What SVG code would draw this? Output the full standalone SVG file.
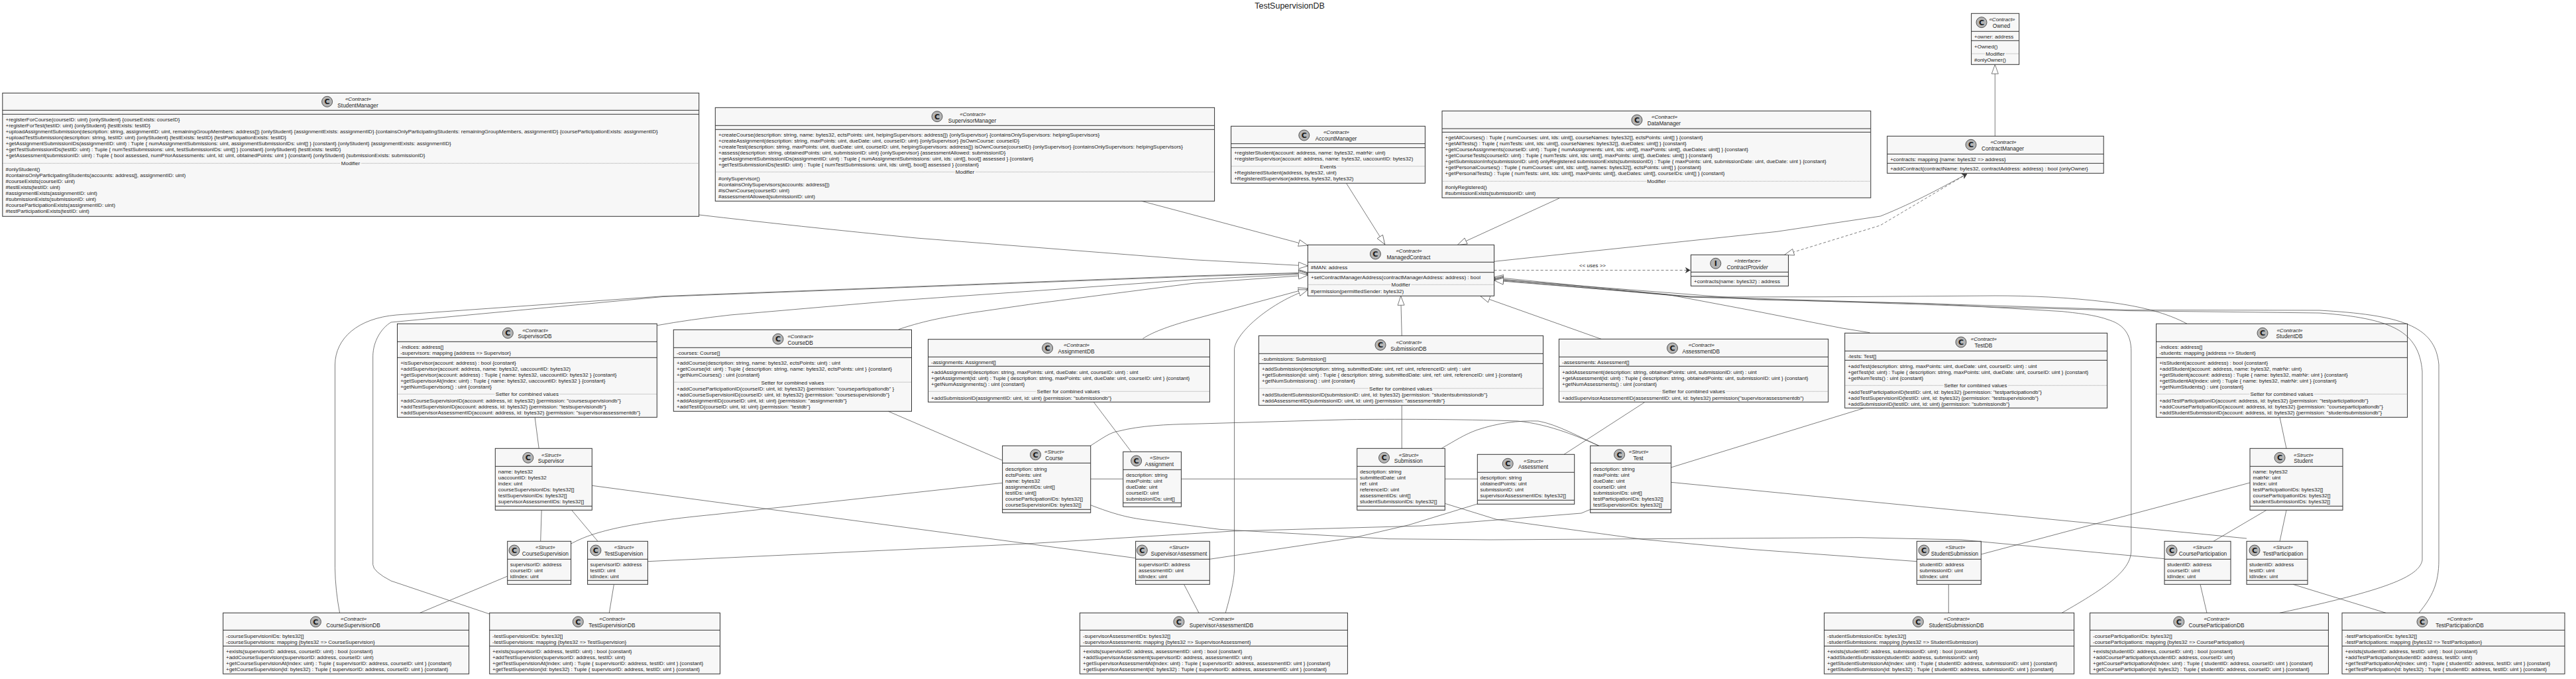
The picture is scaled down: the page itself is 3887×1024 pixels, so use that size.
<svg xmlns="http://www.w3.org/2000/svg" width="3887" height="1024" viewBox="0 0 3887 1024">
<style>
text{font-family:"Liberation Sans",Arial,sans-serif;font-size:8px;fill:#1c1c1c}
.m{text-anchor:middle}
.s{text-anchor:middle;font-style:italic}
.n{text-anchor:middle;font-size:8.3px}
.i{font-style:italic}
.l{text-anchor:middle;paint-order:stroke;stroke:#f7f7f7;stroke-width:3px}
.g{text-anchor:middle;font-weight:bold;font-size:11px;font-family:"DejaVu Sans",sans-serif}
.b{fill:#f7f7f7;stroke:#333;stroke-width:1}
.e{fill:none;stroke:#333;stroke-width:1}
.d{fill:none;stroke:#666;stroke-width:.6;stroke-dasharray:1 1}
.o{fill:#b4b4b4;stroke:#333;stroke-width:.8}
.c path,.c line{fill:none;stroke:#444;stroke-width:.7}
.c .dash{stroke-dasharray:4 3}
</style>
<defs>
<marker id="tri" markerUnits="userSpaceOnUse" markerWidth="16" markerHeight="12" refX="14.5" refY="6" orient="auto"><path d="M0.5,1 L14.5,6 L0.5,11 Z" fill="#fff" stroke="#444" stroke-width=".7"/></marker>
<marker id="open" markerUnits="userSpaceOnUse" markerWidth="10" markerHeight="10" refX="8" refY="5" orient="auto"><path d="M1,1 L8,5 L1,9 L3,5 Z" fill="#333" stroke="#333" stroke-width=".5"/></marker>
</defs>
<rect width="3887" height="1024" fill="#fff"/>
<text x="1946" y="12.5" style="font-size:12.5px;text-anchor:middle">TestSupervisionDB</text>

<g id="StudentManager"><rect class="b" x="3.8" y="140.3" width="1050.9" height="186"/><path class="e" d="M3.8,166.3H1054.7M3.8,172.3H1054.7"/><path class="d" d="M3.8,246.3H1054.7"/><circle class="o" cx="493.6" cy="153.3" r="8"/><text class="g" x="493.6" y="157.2">C</text><text class="s" x="540.5" y="151.8">«Contract»</text><text class="n" x="540" y="161.8">StudentManager</text>
<text x="8.5" y="183.1">+registerForCourse(courseID: uint) {onlyStudent} {courseExists: courseID}</text>
<text x="8.5" y="192.1">+registerForTest(testID: uint) {onlyStudent} {testExists: testID}</text>
<text x="8.5" y="201.2">+uploadAssignmentSubmission(description: string, assignmentID: uint, remainingGroupMembers: address[]) {onlyStudent} {assignmentExists: assignmentID} {containsOnlyParticipatingStudents: remainingGroupMembers, assignmentID} {courseParticipationExists: assignmentID}</text>
<text x="8.5" y="210.2">+uploadTestSubmission(description: string, testID: uint) {onlyStudent} {testExists: testID} {testParticipationExists: testID}</text>
<text x="8.5" y="219.2">+getAssignmentSubmissionIDs(assignmentID: uint) : Tuple { numAssignmentSubmissions: uint, assignmentSubmissionIDs: uint[] } {constant} {onlyStudent} {assignmentExists: assignmentID}</text>
<text x="8.5" y="228.2">+getTestSubmissionIDs(testID: uint) : Tuple { numTestSubmissions: uint, testSubmissionIDs: uint[] } {constant} {onlyStudent} {testExists: testID}</text>
<text x="8.5" y="237.3">+getAssessment(submissionID: uint) : Tuple { bool assessed, numPriorAssessments: uint, id: uint, obtainedPoints: uint } {constant} {onlyStudent} {submissionExists: submissionID}</text>
<text class="l" x="529" y="249.1">Modifier</text>
<text x="8.5" y="258.1">#onlyStudent()</text><text x="8.5" y="267.2">#containsOnlyParticipatingStudents(accounts: address[], assignmentID: uint)</text><text x="8.5" y="276.2">#courseExists(courseID: uint)</text><text x="8.5" y="285.2">#testExists(testID: uint)</text><text x="8.5" y="294.2">#assignmentExists(assignmentID: uint)</text><text x="8.5" y="303.2">#submissionExists(submissionID: uint)</text><text x="8.5" y="312.3">#courseParticipationExists(assignmentID: uint)</text><text x="8.5" y="321.3">#testParticipationExists(testID: uint)</text></g>

<g id="SupervisorManager"><rect class="b" x="1079.3" y="162.3" width="753.3" height="141"/><path class="e" d="M1079.3,189.3H1832.6M1079.3,195.3H1832.6"/><path class="d" d="M1079.3,259.3H1832.6"/><circle class="o" cx="1414" cy="175.7" r="8"/><text class="g" x="1414" y="179.6">C</text><text class="s" x="1467.9" y="174.5">«Contract»</text><text class="n" x="1467" y="184.5">SupervisorManager</text>
<text x="1084" y="205.8">+createCourse(description: string, name: bytes32, ectsPoints: uint, helpingSupervisors: address[]) {onlySupervisor} {containsOnlySupervisors: helpingSupervisors}</text>
<text x="1084" y="214.8">+createAssignment(description: string, maxPoints: uint, dueDate: uint, courseID: uint) {onlySupervisor} {isOwnCourse: courseID}</text>
<text x="1084" y="223.8">+createTest(description: string, maxPoints: uint, dueDate: uint, courseID: uint, helpingSupervisors: address[]) isOwnCourse(courseID) {onlySupervisor} {containsOnlySupervisors: helpingSupervisors}</text>
<text x="1084" y="232.8">+assess(description: string, obtainedPoints: uint, submissionID: uint) {onlySupervisor} {assessmentAllowed: submissionID}</text>
<text x="1084" y="241.8">+getAssignmentSubmissionIDs(assignmentID: uint) : Tuple { numAssignmentSubmissions: uint, ids: uint[], bool[] assessed } {constant}</text>
<text x="1084" y="250.8">+getTestSubmissionIDs(testID: uint) : Tuple { numTestSubmissions: uint, ids: uint[], bool[] assessed } {constant}</text>
<text class="l" x="1456" y="262.1">Modifier</text>
<text x="1084" y="271.8">#onlySupervisor()</text><text x="1084" y="280.8">#containsOnlySupervisors(accounts: address[])</text><text x="1084" y="289.8">#isOwnCourse(courseID: uint)</text><text x="1084" y="298.8">#assessmentAllowed(submissionID: uint)</text></g>

<g id="AccountManager"><rect class="b" x="1857.6" y="190.3" width="292.8" height="86"/><path class="e" d="M1857.6,216.7H2150.4M1857.6,222.7H2150.4"/><path class="d" d="M1857.6,250.7H2150.4"/><circle class="o" cx="1967.8" cy="204" r="8"/><text class="g" x="1967.8" y="207.9">C</text><text class="s" x="2016.5" y="201.8">«Contract»</text><text class="n" x="2016" y="211.8">AccountManager</text>
<text x="1862.2" y="233.1">+registerStudent(account: address, name: bytes32, matrNr: uint)</text><text x="1862.2" y="242.1">+registerSupervisor(account: address, name: bytes32, uaccountID: bytes32)</text><text class="l" x="2004" y="253.5">Events</text><text x="1862.2" y="262.8">+RegisteredStudent(address, bytes32, uint)</text><text x="1862.2" y="271.8">+RegisteredSupervisor(address, bytes32, bytes32)</text></g>

<g id="DataManager"><rect class="b" x="2176" y="167.3" width="646.8" height="131"/><path class="e" d="M2176,194H2822.8M2176,199.3H2822.8"/><path class="d" d="M2176,273.3H2822.8"/><circle class="o" cx="2470" cy="181" r="8"/><text class="g" x="2470" y="184.9">C</text><text class="s" x="2511.6" y="178.8">«Contract»</text><text class="n" x="2511" y="188.8">DataManager</text>
<text x="2180.6" y="210.1">+getAllCourses() : Tuple { numCourses: uint, ids: uint[], courseNames: bytes32[], ectsPoints: uint[] } {constant}</text>
<text x="2180.6" y="219.1">+getAllTests() : Tuple { numTests: uint, ids: uint[], courseNames: bytes32[], dueDates: uint[] } {constant}</text>
<text x="2180.6" y="228.1">+getCourseAssignments(courseID: uint) : Tuple { numAssignments: uint, ids: uint[], maxPoints: uint[], dueDates: uint[] } {constant}</text>
<text x="2180.6" y="237.1">+getCourseTests(courseID: uint) : Tuple { numTests: uint, ids: uint[], maxPoints: uint[], dueDates: uint[] } {constant}</text>
<text x="2180.6" y="246.1">+getSubmissionInfo(submissionID: uint) onlyRegistered submissionExists(submissionID) : Tuple { maxPoints: uint, submissionDate: uint, dueDate: uint } {constant}</text>
<text x="2180.6" y="255.1">+getPersonalCourses() : Tuple { numCourses: uint, ids: uint[], names: bytes32[], ectsPoints: uint[] } {constant}</text>
<text x="2180.6" y="264.1">+getPersonalTests() : Tuple { numTests: uint, ids: uint[], maxPoints: uint[], dueDates: uint[], courseIDs: uint[] } {constant}</text>
<text class="l" x="2499.4" y="276.1">Modifier</text>
<text x="2180.6" y="284.8">#onlyRegistered()</text><text x="2180.6" y="293.8">#submissionExists(submissionID: uint)</text></g>

<g id="Owned"><rect class="b" x="2974.6" y="20.3" width="72.1" height="77"/><path class="e" d="M2974.6,47.3H3046.7M2974.6,61.3H3046.7"/><path class="d" d="M2974.6,81H3046.7"/><circle class="o" cx="2990" cy="33.7" r="8"/><text class="g" x="2990" y="37.6">C</text><text class="s" x="3021" y="32.1">«Contract»</text><text class="n" x="3020" y="41.8">Owned</text><text x="2979" y="57.8">+owner: address</text><text x="2979" y="72.5">+Owned()</text><text class="l" x="3010.6" y="83.8">Modifier</text><text x="2979" y="93.1">#onlyOwner()</text></g>

<g id="ContractManager"><rect class="b" x="2847.7" y="205.3" width="326.5" height="56"/><path class="e" d="M2847.7,232.3H3174.2M2847.7,246.3H3174.2"/><circle class="o" cx="2974" cy="218.3" r="8"/><text class="g" x="2974" y="222.2">C</text><text class="s" x="3023" y="216.8">«Contract»</text><text class="n" x="3022" y="226.8">ContractManager</text><text x="2852.2" y="242.5">+contracts: mapping {name: bytes32 =&gt; address}</text><text x="2852.2" y="257.1">+addContract(contractName: bytes32, contractAddress: address) : bool {onlyOwner}</text></g>

<g id="ManagedContract"><rect class="b" x="1973.4" y="369.3" width="281.1" height="77"/><path class="e" d="M1973.4,395.3H2254.5M1973.4,410.7H2254.5"/><path class="d" d="M1973.4,429.3H2254.5"/><circle class="o" cx="2075.4" cy="383" r="8"/><text class="g" x="2075.4" y="386.9">C</text><text class="s" x="2126" y="380.8">«Contract»</text><text class="n" x="2125.4" y="390.8">ManagedContract</text><text x="1978" y="406.1">#MAN: address</text><text x="1978" y="420.8">+setContractManagerAddress(contractManagerAddress: address) : bool</text><text class="l" x="2113.7" y="432.1">Modifier</text><text x="1978" y="441.8">#permission(permittedSender: bytes32)</text></g>

<g id="ContractProvider"><rect class="b" x="2551.5" y="384.3" width="147" height="47"/><path class="e" d="M2551.5,410.3H2698.5M2551.5,416.7H2698.5"/><circle class="o" cx="2588.8" cy="397.3" r="8"/><text class="g" x="2588.8" y="401.2">I</text><text class="s" x="2637" y="395.8">«Interface»</text><text class="n i" x="2636.7" y="405.5">ContractProvider</text><text x="2556" y="427.1">+contracts(name: bytes32) : address</text></g>

<g id="SupervisorDB"><rect class="b" x="599.5" y="488.3" width="391.8" height="141"/><path class="e" d="M599.5,515.3H991.3M599.5,539.3H991.3"/><path class="d" d="M599.5,594.3H991.3"/><circle class="o" cx="766.3" cy="502.3" r="8"/><text class="g" x="766.3" y="506.2">C</text><text class="s" x="807.7" y="500.5">«Contract»</text><text class="n" x="807" y="510.1">SupervisorDB</text>
<text x="604.2" y="526.1">-indices: address[]</text><text x="604.2" y="535.1">-supervisors: mapping {address =&gt; Supervisor}</text>
<text x="604.2" y="549.8">+isSupervisor(account: address) : bool {constant}</text><text x="604.2" y="558.8">+addSupervisor(account: address, name: bytes32, uaccountID: bytes32)</text><text x="604.2" y="567.8">+getSupervisor(account: address) : Tuple { name: bytes32, uaccountID: bytes32 } {constant}</text><text x="604.2" y="576.8">+getSupervisorAt(index: uint) : Tuple { name: bytes32, uaccountID: bytes32 } {constant}</text><text x="604.2" y="585.8">+getNumSupervisors() : uint {constant}</text>
<text class="l" x="795.4" y="597.2">Setter for combined values</text>
<text x="604.2" y="606.8">+addCourseSupervisionID(account: address, id: bytes32) {permission: "coursesupervisiondb"}</text><text x="604.2" y="615.8">+addTestSupervisionID(account: address, id: bytes32) {permission: "testsupervisiondb"}</text><text x="604.2" y="624.8">+addSupervisorAssessmentID(account: address, id: bytes32) {permission: "supervisorassessmentdb"}</text></g>

<g id="CourseDB"><rect class="b" x="1016.3" y="497.3" width="359.2" height="123"/><path class="e" d="M1016.3,524.3H1375.5M1016.3,539.3H1375.5"/><path class="d" d="M1016.3,576.3H1375.5"/><circle class="o" cx="1174" cy="511.3" r="8"/><text class="g" x="1174" y="515.2">C</text><text class="s" x="1208" y="509.5">«Contract»</text><text class="n" x="1207.7" y="519.5">CourseDB</text><text x="1021" y="535.1">-courses: Course[]</text>
<text x="1021" y="549.8">+addCourse(description: string, name: bytes32, ectsPoints: uint) : uint</text><text x="1021" y="558.8">+getCourse(id: uint) : Tuple { description: string, name: bytes32, ectsPoints: uint } {constant}</text><text x="1021" y="567.8">+getNumCourses() : uint {constant}</text><text class="l" x="1196" y="579.5">Setter for combined values</text>
<text x="1021" y="588.8">+addCourseParticipationID(courseID: uint, id: bytes32) {permission: "courseparticipationdb" }</text><text x="1021" y="597.8">+addCourseSupervisionID(courseID: uint, id: bytes32) {permission: "coursesupervisiondb"}</text><text x="1021" y="606.8">+addAssignmentID(courseID: uint, id: uint) {permission: "assignmentdb"}</text><text x="1021" y="615.8">+addTestID(courseID: uint, id: uint) {permission: "testdb"}</text></g>

<g id="AssignmentDB"><rect class="b" x="1400.5" y="511.7" width="424.9" height="94.6"/><path class="e" d="M1400.5,538.3H1825.4M1400.5,552.3H1825.4"/><path class="d" d="M1400.5,590.3H1825.4"/><circle class="o" cx="1580.6" cy="525" r="8"/><text class="g" x="1580.6" y="528.9">C</text><text class="s" x="1624.5" y="523.1">«Contract»</text><text class="n" x="1624" y="532.8">AssignmentDB</text><text x="1405" y="548.8">-assignments: Assignment[]</text>
<text x="1405" y="563.5">+addAssignment(description: string, maxPoints: uint, dueDate: uint, courseID: uint) : uint</text><text x="1405" y="572.5">+getAssignment(id: uint) : Tuple { description: string, maxPoints: uint, dueDate: uint, courseID: uint } {constant}</text><text x="1405" y="581.5">+getNumAssignments() : uint {constant}</text><text class="l" x="1612.2" y="593.3">Setter for combined values</text><text x="1405" y="602.5">+addSubmissionID(assignmentID: uint, id: uint) {permission: "submissiondb"}</text></g>

<g id="SubmissionDB"><rect class="b" x="1899.4" y="506.3" width="429.1" height="105"/><path class="e" d="M1899.4,533.3H2328.5M1899.4,548.3H2328.5"/><path class="d" d="M1899.4,585.7H2328.5"/><circle class="o" cx="2083" cy="520.3" r="8"/><text class="g" x="2083" y="524.2">C</text><text class="s" x="2126" y="518.5">«Contract»</text><text class="n" x="2125.4" y="528.5">SubmissionDB</text><text x="1904" y="544.1">-submissions: Submission[]</text>
<text x="1904" y="558.8">+addSubmission(description: string, submittedDate: uint, ref: uint, referenceID: uint) : uint</text><text x="1904" y="567.8">+getSubmission(id: uint) : Tuple { description: string, submittedDate: uint, ref: uint, referenceID: uint } {constant}</text><text x="1904" y="576.8">+getNumSubmissions() : uint {constant}</text><text class="l" x="2113.7" y="588.5">Setter for combined values</text><text x="1904" y="597.8">+addStudentSubmissionID(submissionID: uint, id: bytes32) {permission: "studentsubmissiondb"}</text><text x="1904" y="606.8">+addAssessmentID(submissionID: uint, id: uint) {permission: "assessmentdb"}</text></g>

<g id="AssessmentDB"><rect class="b" x="2352.4" y="511.3" width="406.3" height="95"/><path class="e" d="M2352.4,538.3H2758.7M2352.4,552.3H2758.7"/><path class="d" d="M2352.4,590.3H2758.7"/><circle class="o" cx="2523.5" cy="525" r="8"/><text class="g" x="2523.5" y="528.9">C</text><text class="s" x="2567.3" y="523.1">«Contract»</text><text class="n" x="2566.8" y="532.8">AssessmentDB</text><text x="2357" y="548.8">-assessments: Assessment[]</text>
<text x="2357" y="563.5">+addAssessment(description: string, obtainedPoints: uint, submissionID: uint) : uint</text><text x="2357" y="572.5">+getAssessment(id: uint) : Tuple { description: string, obtainedPoints: uint, submissionID: uint } {constant}</text><text x="2357" y="581.5">+getNumAssessments() : uint {constant}</text><text class="l" x="2555.5" y="593.3">Setter for combined values</text><text x="2357" y="602.5">+addSupervisorAssessmentID(assessmentID: uint, id: bytes32) permission("supervisorassessmentdb")</text></g>

<g id="TestDB"><rect class="b" x="2783.7" y="502.3" width="395.9" height="113"/><path class="e" d="M2783.7,529.3H3179.6M2783.7,543.3H3179.6"/><path class="d" d="M2783.7,581.3H3179.6"/><circle class="o" cx="2959" cy="516" r="8"/><text class="g" x="2959" y="519.9">C</text><text class="s" x="2993.4" y="514.1">«Contract»</text><text class="n" x="2992.9" y="523.8">TestDB</text><text x="2788.2" y="539.8">-tests: Test[]</text>
<text x="2788.2" y="554.5">+addTest(description: string, maxPoints: uint, dueDate: uint, courseID: uint) : uint</text><text x="2788.2" y="563.5">+getTest(id: uint) : Tuple { description: string, maxPoints: uint, dueDate: uint, courseID: uint } {constant}</text><text x="2788.2" y="572.5">+getNumTests() : uint {constant}</text><text class="l" x="2981" y="584.2">Setter for combined values</text><text x="2788.2" y="593.5">+addTestParticipationID(testID: uint, id: bytes32) {permission: "testparticipationdb"}</text><text x="2788.2" y="602.5">+addTestSupervisionID(testID: uint, id: bytes32) {permission: "testsupervisiondb"}</text><text x="2788.2" y="611.5">+addSubmissionID(testID: uint, id: uint) {permission: "submissiondb"}</text></g>

<g id="StudentDB"><rect class="b" x="3253.6" y="488.3" width="379" height="141"/><path class="e" d="M3253.6,515.3H3632.6M3253.6,539.3H3632.6"/><path class="d" d="M3253.6,594.3H3632.6"/><circle class="o" cx="3414" cy="502.3" r="8"/><text class="g" x="3414" y="506.2">C</text><text class="s" x="3455" y="500.5">«Contract»</text><text class="n" x="3454.5" y="510.1">StudentDB</text>
<text x="3258.2" y="526.1">-indices: address[]</text><text x="3258.2" y="535.1">-students: mapping {address =&gt; Student}</text>
<text x="3258.2" y="549.8">+isStudent(account: address) : bool {constant}</text><text x="3258.2" y="558.8">+addStudent(account: address, name: bytes32, matrNr: uint)</text><text x="3258.2" y="567.8">+getStudent(account: address) : Tuple { name: bytes32, matrNr: uint } {constant}</text><text x="3258.2" y="576.8">+getStudentAt(index: uint) : Tuple { name: bytes32, matrNr: uint } {constant}</text><text x="3258.2" y="585.8">+getNumStudents() : uint {constant}</text>
<text class="l" x="3443" y="597.2">Setter for combined values</text>
<text x="3258.2" y="606.8">+addTestParticipationID(account: address, id: bytes32) {permission: "testparticipationdb"}</text><text x="3258.2" y="615.8">+addCourseParticipationID(account: address, id: bytes32) {permission: "courseparticipationdb"}</text><text x="3258.2" y="624.8">+addStudentSubmissionID(account: address, id: bytes32) {permission: "studentsubmissiondb"}</text></g>

<g id="Supervisor"><rect class="b" x="747.3" y="676.3" width="146" height="93"/><path class="e" d="M747.3,703.3H893.3M747.3,763.3H893.3"/><circle class="o" cx="796.8" cy="690.3" r="8"/><text class="g" x="796.8" y="694.2">C</text><text class="s" x="832" y="688.5">«Struct»</text><text class="n" x="831.5" y="698.1">Supervisor</text>
<text x="751.8" y="714.1">name: bytes32</text><text x="751.8" y="723.1">uaccountID: bytes32</text><text x="751.8" y="732.1">index: uint</text><text x="751.8" y="741.1">courseSupervisionIDs: bytes32[]</text><text x="751.8" y="750.1">testSupervisionIDs: bytes32[]</text><text x="751.8" y="759.1">supervisorAssessmentIDs: bytes32[]</text></g>

<g id="CourseSupervision"><rect class="b" x="765.7" y="816.3" width="95.9" height="65"/><path class="e" d="M765.7,843.3H861.6M765.7,875.3H861.6"/><circle class="o" cx="776" cy="830" r="8"/><text class="g" x="776" y="833.9">C</text><text class="s" x="822.9" y="828.1">«Struct»</text><text class="n" x="822.9" y="837.8">CourseSupervision</text><text x="769.7" y="853.8">supervisorID: address</text><text x="769.7" y="862.8">courseID: uint</text><text x="769.7" y="871.8">idIndex: uint</text></g>

<g id="TestSupervision"><rect class="b" x="886.6" y="816.3" width="90.8" height="65"/><path class="e" d="M886.6,843.3H977.4M886.6,875.3H977.4"/><circle class="o" cx="898.9" cy="830" r="8"/><text class="g" x="898.9" y="833.9">C</text><text class="s" x="941.7" y="828.1">«Struct»</text><text class="n" x="941.2" y="837.8">TestSupervision</text><text x="890.6" y="853.8">supervisorID: address</text><text x="890.6" y="862.8">testID: uint</text><text x="890.6" y="871.8">idIndex: uint</text></g>

<g id="CourseSupervisionDB"><rect class="b" x="336.6" y="924.3" width="371" height="92"/><path class="e" d="M336.6,950.3H707.6M336.6,974.3H707.6"/><circle class="o" cx="476.4" cy="937.7" r="8"/><text class="g" x="476.4" y="941.6">C</text><text class="s" x="533.6" y="936.1">«Contract»</text><text class="n" x="533" y="945.8">CourseSupervisionDB</text><text x="341" y="961.5">-courseSupervisionIDs: bytes32[]</text><text x="341" y="970.5">-courseSupervisions: mapping {bytes32 =&gt; CourseSupervision}</text><text x="341" y="985.1">+exists(supervisorID: address, courseID: uint) : bool {constant}</text><text x="341" y="994.1">+addCourseSupervision(supervisorID: address, courseID: uint)</text><text x="341" y="1003.1">+getCourseSupervisionAt(index: uint) : Tuple { supervisorID: address, courseID: uint } {constant}</text><text x="341" y="1012.1">+getCourseSupervision(id: bytes32) : Tuple { supervisorID: address, courseID: uint } {constant}</text></g>

<g id="TestSupervisionDB"><rect class="b" x="738.7" y="924.3" width="347.8" height="92"/><path class="e" d="M738.7,950.3H1086.5M738.7,974.3H1086.5"/><circle class="o" cx="872.3" cy="937.7" r="8"/><text class="g" x="872.3" y="941.6">C</text><text class="s" x="923.9" y="936.1">«Contract»</text><text class="n" x="923.4" y="945.8">TestSupervisionDB</text><text x="743" y="961.5">-testSupervisionIDs: bytes32[]</text><text x="743" y="970.5">-testSupervisions: mapping {bytes32 =&gt; TestSupervision}</text><text x="743" y="985.1">+exists(supervisorID: address, testID: uint) : bool {constant}</text><text x="743" y="994.1">+addTestSupervision(supervisorID: address, testID: uint)</text><text x="743" y="1003.1">+getTestSupervisionAt(index: uint) : Tuple { supervisorID: address, testID: uint } {constant}</text><text x="743" y="1012.1">+getTestSupervision(id: bytes32) : Tuple { supervisorID: address, testID: uint } {constant}</text></g>

<g id="Course"><rect class="b" x="1512.6" y="672.3" width="133.1" height="101"/><path class="e" d="M1512.6,698.3H1645.7M1512.6,768.3H1645.7"/><circle class="o" cx="1562.5" cy="685.7" r="8"/><text class="g" x="1562.5" y="689.6">C</text><text class="s" x="1591" y="683.8">«Struct»</text><text class="n" x="1590.6" y="693.5">Course</text><text x="1517" y="709.5">description: string</text><text x="1517" y="718.5">ectsPoints: uint</text><text x="1517" y="727.5">name: bytes32</text><text x="1517" y="736.5">assignmentIDs: uint[]</text><text x="1517" y="745.5">testIDs: uint[]</text><text x="1517" y="754.5">courseParticipationIDs: bytes32[]</text><text x="1517" y="763.5">courseSupervisionIDs: bytes32[]</text></g>

<g id="Assignment"><rect class="b" x="1694.7" y="681.3" width="87.7" height="83"/><path class="e" d="M1694.7,708.3H1782.4M1694.7,758.3H1782.4"/><circle class="o" cx="1714.6" cy="695" r="8"/><text class="g" x="1714.6" y="698.9">C</text><text class="s" x="1749.8" y="692.8">«Struct»</text><text class="n" x="1749.3" y="702.8">Assignment</text><text x="1699" y="718.5">description: string</text><text x="1699" y="727.5">maxPoints: uint</text><text x="1699" y="736.5">dueDate: uint</text><text x="1699" y="745.5">courseID: uint</text><text x="1699" y="754.5">submissionIDs: uint[]</text></g>

<g id="SupervisorAssessment"><rect class="b" x="1713.6" y="816.3" width="111.7" height="65"/><path class="e" d="M1713.6,843.3H1825.3M1713.6,875.3H1825.3"/><circle class="o" cx="1723.3" cy="830" r="8"/><text class="g" x="1723.3" y="833.9">C</text><text class="s" x="1779.4" y="828.1">«Struct»</text><text class="n" x="1778.9" y="837.8">SupervisorAssessment</text><text x="1718" y="853.8">supervisorID: address</text><text x="1718" y="862.8">assessmentID: uint</text><text x="1718" y="871.8">idIndex: uint</text></g>

<g id="SupervisorAssessmentDB"><rect class="b" x="1629.4" y="924.3" width="404" height="92"/><path class="e" d="M1629.4,950.3H2033.4M1629.4,974.3H2033.4"/><circle class="o" cx="1778.9" cy="937.7" r="8"/><text class="g" x="1778.9" y="941.6">C</text><text class="s" x="1843" y="936.1">«Contract»</text><text class="n" x="1843" y="945.8">SupervisorAssessmentDB</text><text x="1634" y="961.5">-supervisorAssessmentIDs: bytes32[]</text><text x="1634" y="970.5">-supervisorAssessments: mapping {bytes32 =&gt; SupervisorAssessment}</text><text x="1634" y="985.1">+exists(supervisorID: address, assessmentID: uint) : bool {constant}</text><text x="1634" y="994.1">+addSupervisorAssessment(supervisorID: address, assessmentID: uint)</text><text x="1634" y="1003.1">+getSupervisorAssessmentAt(index: uint) : Tuple { supervisorID: address, assessmentID: uint } {constant}</text><text x="1634" y="1012.1">+getSupervisorAssessment(id: bytes32) : Tuple { supervisorID: address, assessmentID: uint } {constant}</text></g>

<g id="Submission"><rect class="b" x="2047.7" y="676.3" width="132.6" height="93"/><path class="e" d="M2047.7,703.3H2180.3M2047.7,763.3H2180.3"/><circle class="o" cx="2088.5" cy="690.3" r="8"/><text class="g" x="2088.5" y="694.2">C</text><text class="s" x="2125.7" y="688.5">«Struct»</text><text class="n" x="2125.2" y="698.1">Submission</text><text x="2052" y="714.1">description: string</text><text x="2052" y="723.1">submittedDate: uint</text><text x="2052" y="732.1">ref: uint</text><text x="2052" y="741.1">referenceID: uint</text><text x="2052" y="750.1">assessmentIDs: uint[]</text><text x="2052" y="759.1">studentSubmissionIDs: bytes32[]</text></g>

<g id="Assessment"><rect class="b" x="2229.3" y="685.3" width="146.4" height="75"/><path class="e" d="M2229.3,712.3H2375.7M2229.3,754.3H2375.7"/><circle class="o" cx="2275.2" cy="699.3" r="8"/><text class="g" x="2275.2" y="703.2">C</text><text class="s" x="2314" y="697.5">«Struct»</text><text class="n" x="2313.5" y="707.1">Assessment</text><text x="2233.5" y="723.1">description: string</text><text x="2233.5" y="732.1">obtainedPoints: uint</text><text x="2233.5" y="741.1">submissionID: uint</text><text x="2233.5" y="750.1">supervisorAssessmentIDs: bytes32[]</text></g>

<g id="Test"><rect class="b" x="2399.7" y="672.3" width="121.9" height="101"/><path class="e" d="M2399.7,698.3H2521.6M2399.7,768.3H2521.6"/><circle class="o" cx="2443.6" cy="685.7" r="8"/><text class="g" x="2443.6" y="689.6">C</text><text class="s" x="2472.6" y="683.8">«Struct»</text><text class="n" x="2472" y="693.5">Test</text><text x="2404" y="709.5">description: string</text><text x="2404" y="718.5">maxPoints: uint</text><text x="2404" y="727.5">dueDate: uint</text><text x="2404" y="736.5">courseID: uint</text><text x="2404" y="745.5">submissionIDs: uint[]</text><text x="2404" y="754.5">testParticipationIDs: bytes32[]</text><text x="2404" y="763.5">testSupervisionIDs: bytes32[]</text></g>

<g id="StudentSubmission"><rect class="b" x="2892.3" y="816.3" width="97" height="65"/><path class="e" d="M2892.3,843.3H2989.3M2892.3,875.3H2989.3"/><circle class="o" cx="2903" cy="830" r="8"/><text class="g" x="2903" y="833.9">C</text><text class="s" x="2950.5" y="828.1">«Struct»</text><text class="n" x="2949.5" y="837.8">StudentSubmission</text><text x="2896.5" y="853.8">studentID: address</text><text x="2896.5" y="862.8">submissionID: uint</text><text x="2896.5" y="871.8">idIndex: uint</text></g>

<g id="StudentSubmissionDB"><rect class="b" x="2752.6" y="924.3" width="377" height="92"/><path class="e" d="M2752.6,950.3H3129.6M2752.6,974.3H3129.6"/><circle class="o" cx="2894.4" cy="937.7" r="8"/><text class="g" x="2894.4" y="941.6">C</text><text class="s" x="2952.6" y="936.1">«Contract»</text><text class="n" x="2952" y="945.8">StudentSubmissionDB</text><text x="2757" y="961.5">-studentSubmissionIDs: bytes32[]</text><text x="2757" y="970.5">-studentSubmissions: mapping {bytes32 =&gt; StudentSubmission}</text><text x="2757" y="985.1">+exists(studentID: address, submissionID: uint) : bool {constant}</text><text x="2757" y="994.1">+addStudentSubmission(studentID: address, submissionID: uint)</text><text x="2757" y="1003.1">+getStudentSubmissionAt(index: uint) : Tuple { studentID: address, submissionID: uint } {constant}</text><text x="2757" y="1012.1">+getStudentSubmission(id: bytes32) : Tuple { studentID: address, submissionID: uint } {constant}</text></g>

<g id="Student"><rect class="b" x="3395" y="676.3" width="140" height="93"/><path class="e" d="M3395,703.3H3535M3395,763.3H3535"/><circle class="o" cx="3440" cy="690.3" r="8"/><text class="g" x="3440" y="694.2">C</text><text class="s" x="3476" y="688.5">«Struct»</text><text class="n" x="3475.5" y="698.1">Student</text><text x="3399.5" y="714.1">name: bytes32</text><text x="3399.5" y="723.1">matrNr: uint</text><text x="3399.5" y="732.1">index: uint</text><text x="3399.5" y="741.1">testParticipationIDs: bytes32[]</text><text x="3399.5" y="750.1">courseParticipationIDs: bytes32[]</text><text x="3399.5" y="759.1">studentSubmissionIDs: bytes32[]</text></g>

<g id="CourseParticipation"><rect class="b" x="3266" y="816.3" width="100" height="65"/><path class="e" d="M3266,843.3H3366M3266,875.3H3366"/><circle class="o" cx="3277" cy="830" r="8"/><text class="g" x="3277" y="833.9">C</text><text class="s" x="3324" y="828.1">«Struct»</text><text class="n" x="3324" y="837.8">CourseParticipation</text><text x="3270" y="853.8">studentID: address</text><text x="3270" y="862.8">courseID: uint</text><text x="3270" y="871.8">idIndex: uint</text></g>

<g id="TestParticipation"><rect class="b" x="3390" y="816.3" width="92" height="65"/><path class="e" d="M3390,843.3H3482M3390,875.3H3482"/><circle class="o" cx="3402" cy="830" r="8"/><text class="g" x="3402" y="833.9">C</text><text class="s" x="3445" y="828.1">«Struct»</text><text class="n" x="3445" y="837.8">TestParticipation</text><text x="3394" y="853.8">studentID: address</text><text x="3394" y="862.8">testID: uint</text><text x="3394" y="871.8">idIndex: uint</text></g>

<g id="CourseParticipationDB"><rect class="b" x="3153.6" y="924.3" width="359.8" height="92"/><path class="e" d="M3153.6,950.3H3513.4M3153.6,974.3H3513.4"/><circle class="o" cx="3287.8" cy="937.7" r="8"/><text class="g" x="3287.8" y="941.6">C</text><text class="s" x="3345" y="936.1">«Contract»</text><text class="n" x="3344.5" y="945.8">CourseParticipationDB</text><text x="3158" y="961.5">-courseParticipationIDs: bytes32[]</text><text x="3158" y="970.5">-courseParticipations: mapping {bytes32 =&gt; CourseParticipation}</text><text x="3158" y="985.1">+exists(studentID: address, courseID: uint) : bool {constant}</text><text x="3158" y="994.1">+addCourseParticipation(studentID: address, courseID: uint)</text><text x="3158" y="1003.1">+getCourseParticipationAt(index: uint) : Tuple { studentID: address, courseID: uint } {constant}</text><text x="3158" y="1012.1">+getCourseParticipation(id: bytes32) : Tuple { studentID: address, courseID: uint } {constant}</text></g>

<g id="TestParticipationDB"><rect class="b" x="3534" y="924.3" width="336" height="92"/><path class="e" d="M3534,950.3H3870M3534,974.3H3870"/><circle class="o" cx="3655" cy="937.7" r="8"/><text class="g" x="3655" y="941.6">C</text><text class="s" x="3712" y="936.1">«Contract»</text><text class="n" x="3711.5" y="945.8">TestParticipationDB</text><text x="3538.5" y="961.5">-testParticipationIDs: bytes32[]</text><text x="3538.5" y="970.5">-testParticipations: mapping {bytes32 =&gt; TestParticipation}</text><text x="3538.5" y="985.1">+exists(studentID: address, testID: uint) : bool {constant}</text><text x="3538.5" y="994.1">+addTestParticipation(studentID: address, testID: uint)</text><text x="3538.5" y="1003.1">+getTestParticipationAt(index: uint) : Tuple { studentID: address, testID: uint } {constant}</text><text x="3538.5" y="1012.1">+getTestParticipation(id: bytes32) : Tuple { studentID: address, testID: uint } {constant}</text></g>

<g id="connectors" class="c">
<path d="M1054.7,324 Q1200,341 1383,359 L1800,391.7 L1973.4,401" marker-end="url(#tri)"/>
<path d="M1722.7,303.3 L1973.4,370" marker-end="url(#tri)"/>
<path d="M2031.7,276.7 L2089.7,368.7" marker-end="url(#tri)"/>
<path d="M2352.8,299 L2199.4,369.3" marker-end="url(#tri)"/>
<path d="M3010.3,205.3 V97.3" marker-end="url(#tri)"/>
<path d="M2254.5,394.3 L2681,349.3 L2837.5,326 C2890,305 2935,280 2968,262.3" marker-end="url(#open)"/>
<path class="dash" d="M2968,262.3 L2837,340 L2692.9,384.3" marker-end="url(#tri)"/>
<path class="dash" d="M2254.5,407.5 H2550.4" marker-end="url(#open)"/>
<path d="M512.6,924.3 Q506,890 505.5,856.7 V550 C506,510 540,480 598,475 L1000,446.7 L1800,416 L1973.4,411" marker-end="url(#tri)"/>
<path d="M738.7,926 L590,876 Q563,862 562.7,851.7 V536.7 C563,515 575,495 590,486 L1000,447.5 L1800,417 L1973.4,412" marker-end="url(#tri)"/>
<path d="M991.8,490.7 Q1040,482 1102,475 L1357,453 L1561,438.7 L1800,421.7 L1973.4,413" marker-end="url(#tri)"/>
<path d="M1356,496.7 C1400,482 1430,478 1459,472.7 L1561,458 L1800,427.3 L1973.4,415" marker-end="url(#tri)"/>
<path d="M1724.5,510.7 C1740,500 1770,490 1800,481.7 L1973.4,435" marker-end="url(#tri)"/>
<path d="M1849.2,924.3 Q1862,880 1862.5,860 V526.7 C1865,500 1920,455 1973.4,437" marker-end="url(#tri)"/>
<path d="M2115.2,506.3 L2113.7,446.3" marker-end="url(#tri)"/>
<path d="M2416,511.3 L2234,446.7" marker-end="url(#tri)"/>
<path d="M2821.4,501.7 L2780,495 L2653,470 L2515,444 L2254.5,418" marker-end="url(#tri)"/>
<path d="M3300,488.3 C3270,472 3230,462 3183.7,456 C3120,448 3060,446 3010,446 L2755,447.7 L2551,448 L2254.5,420" marker-end="url(#tri)"/>
<path d="M3111.2,924.3 C3180,885 3215.8,860 3215.8,830 V530 C3215.8,505 3205,490 3183.7,483 C3160,474 3130,472 3112,469.7 L2908,457.7 L2653,452 L2254.5,421" marker-end="url(#tri)"/>
<path d="M3440,924.3 C3600,890 3650,870 3655,845 V560 C3650,500 3610,480 3500,472 L3214,468.7 L3010,463 L2806,456 L2551,448 L2254.5,422" marker-end="url(#tri)"/>
<path d="M3650,924.3 C3670,900 3680,880 3680,845 V550 C3675,490 3620,475 3500,468 L3214,467.5 L3010,461 L2806,455 L2551,447 L2254.5,423" marker-end="url(#tri)"/>
<path d="M807.1,629.3 L813.2,676.3"/>
<path d="M817.2,769.3 L815.7,816.3"/>
<path d="M862.6,769.3 L902,816.3"/>
<path d="M893.3,732.3 L1713.6,841.7"/>
<path d="M861.6,820 C890,805 930,790 1080,775.7 L1512.6,728.3"/>
<path d="M926.4,881.3 L919.3,924.3"/>
<path d="M977.4,846.7 L1549.8,820 L1860,801 L2146,793 L2386,774 L2399.7,768.3"/>
<path d="M765.7,869 L633.6,924.3"/>
<path d="M1340.3,620.3 L1512.6,694.3"/>
<path d="M1645.7,722.3 H1694.7"/>
<path d="M1645.3,672.3 C1665,660 1675,652 1688.8,650 C1720,642 1760,640 1800,639.3 L2035,632.7 C2100,632 2200,632 2290,635 C2340,640 2385,660 2412.7,672.3"/>
<path d="M1650.5,606.7 L1707,681.3"/>
<path d="M1782.4,722.3 H2047.7"/>
<path d="M2115.2,611.3 V676.7"/>
<path d="M2180.3,722.3 H2229.3"/>
<path d="M2175.4,676 C2195,665 2210,655 2229,648.3 C2260,638 2290,634 2321,635 C2350,640 2385,660 2412.7,672.3"/>
<path d="M2481.6,606.7 L2360,685.3"/>
<path d="M2812,615.7 L2521.4,705"/>
<path d="M2521.4,727.3 L3390,812"/>
<path d="M1645.7,761.7 C1680,775 1700,780 1723,783.3 L1840,798.3 L2095,812.7 L2248,814 L2640,811.7 L2806,810.7 L2959,814 L3266,842.7"/>
<path d="M2180.3,759.3 L2258,783.3 L2477.8,813.3 L2640,828.3 L2892.3,846.7"/>
<path d="M2989.3,836 L3395,728"/>
<path d="M2229.3,760 L2125.7,791.7 L2044,810.7 L1825.3,843.3"/>
<path d="M1786.5,881.3 L1809,924.3"/>
<path d="M2940.3,881.3 V924.3"/>
<path d="M3440,629.3 L3450,676.3"/>
<path d="M3420,769.3 L3340,816.3"/>
<path d="M3450,769.3 L3440,816.3"/>
<path d="M3320,881.3 L3330,924.3"/>
<path d="M3460,881.3 L3600,924.3"/>
</g>
<text x="2403" y="403" style="text-anchor:middle">&lt;&lt; uses &gt;&gt;</text>
</svg>
